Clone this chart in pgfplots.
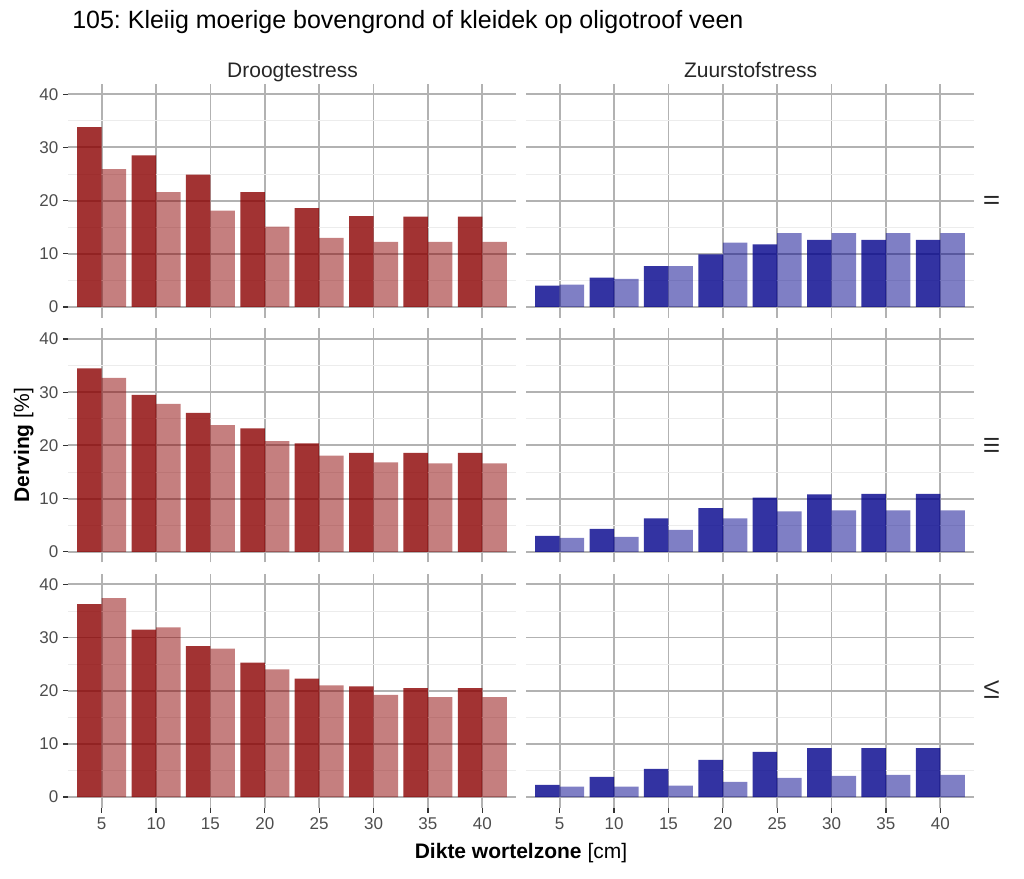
\documentclass[border=0pt]{standalone}
\usepackage{pgfplots}
\pgfplotsset{compat=1.18}
\usepackage{fontspec}
\setmainfont{Liberation Sans}
\frenchspacing
\definecolor{dred}{RGB}{139,0,0}
\definecolor{dblue}{RGB}{0,0,139}
\definecolor{gridmaj}{RGB}{178,178,178}
\definecolor{gridmin}{RGB}{236,236,236}
\definecolor{tickgrey}{RGB}{77,77,77}
\definecolor{tickmark}{RGB}{51,51,51}
\pgfplotsset{
  panel/.style={
    scale only axis, width=336pt, height=175.5pt,
    anchor=north west,
    xmin=1.9, xmax=43.1, ymin=-2, ymax=42,
    xtick={5,10,...,40}, ytick={0,10,20,30,40}, minor ytick={5,15,25,35},
    axis lines=left, axis line style={draw=none,-},
    grid=both,
    major grid style={draw=gridmaj, line width=1.4pt},
    minor grid style={draw=gridmin, line width=0.6pt},
    tick align=outside, major tick length=3.75pt, minor tick length=0pt,
    tick style={draw=tickmark, line width=0.9pt},
    /pgf/number format/assume math mode=true,
    ticklabel style={font=\fontsize{12.75pt}{14pt}\selectfont, text=tickgrey},
    ybar, bar width=2.25,
  },
  noxt/.style={xticklabels={}, xtick style={draw=none}},
  noyt/.style={yticklabels={}, ytick style={draw=none}},
  darkbar/.style={fill=#1, fill opacity=0.8, draw=none, bar shift=-1.125},
  lightbar/.style={fill=#1, fill opacity=0.5, draw=none, bar shift=1.125},
}
\begin{document}
\begin{tikzpicture}
\path[use as bounding box] (0,0) rectangle (768pt,-658.5pt);
% Row II
\begin{axis}[panel, noxt, at={(51pt,-62.7pt)}]
\addplot[darkbar=dred] coordinates {(5,33.8) (10,28.5) (15,24.9) (20,21.6) (25,18.6) (30,17.1) (35,17.0) (40,17.0)};
\addplot[lightbar=dred] coordinates {(5,25.9) (10,21.6) (15,18.1) (20,15.1) (25,13.0) (30,12.25) (35,12.25) (40,12.25)};
\end{axis}
\begin{axis}[panel, noxt, noyt, at={(394.5pt,-62.7pt)}]
\addplot[darkbar=dblue] coordinates {(5,4.0) (10,5.5) (15,7.7) (20,9.9) (25,11.75) (30,12.6) (35,12.6) (40,12.6)};
\addplot[lightbar=dblue] coordinates {(5,4.2) (10,5.3) (15,7.7) (20,12.1) (25,13.9) (30,13.9) (35,13.9) (40,13.9)};
\end{axis}
% Row III
\begin{axis}[panel, noxt, at={(51pt,-246.3pt)}]
\addplot[darkbar=dred] coordinates {(5,34.5) (10,29.5) (15,26.1) (20,23.2) (25,20.4) (30,18.6) (35,18.6) (40,18.6)};
\addplot[lightbar=dred] coordinates {(5,32.7) (10,27.8) (15,23.8) (20,20.8) (25,18.1) (30,16.8) (35,16.6) (40,16.6)};
\end{axis}
\begin{axis}[panel, noxt, noyt, at={(394.5pt,-246.3pt)}]
\addplot[darkbar=dblue] coordinates {(5,3.0) (10,4.3) (15,6.3) (20,8.2) (25,10.2) (30,10.8) (35,10.9) (40,10.9)};
\addplot[lightbar=dblue] coordinates {(5,2.6) (10,2.8) (15,4.1) (20,6.3) (25,7.6) (30,7.8) (35,7.8) (40,7.8)};
\end{axis}
% Row VI
\begin{axis}[panel, at={(51pt,-430.3pt)}]
\addplot[darkbar=dred] coordinates {(5,36.3) (10,31.5) (15,28.4) (20,25.3) (25,22.3) (30,20.8) (35,20.5) (40,20.5)};
\addplot[lightbar=dred] coordinates {(5,37.4) (10,31.9) (15,27.9) (20,24.0) (25,21.0) (30,19.2) (35,18.8) (40,18.8)};
\end{axis}
\begin{axis}[panel, noyt, at={(394.5pt,-430.3pt)}]
\addplot[darkbar=dblue] coordinates {(5,2.3) (10,3.8) (15,5.3) (20,7.0) (25,8.5) (30,9.2) (35,9.2) (40,9.2)};
\addplot[lightbar=dblue] coordinates {(5,1.95) (10,1.95) (15,2.15) (20,2.85) (25,3.6) (30,4.0) (35,4.2) (40,4.2)};
\end{axis}
% Texts
\node[anchor=base west, inner sep=0pt, font=\fontsize{18.75pt}{22pt}\selectfont] at (54pt,-21pt) {105: Kleiig moerige bovengrond of kleidek op oligotroof veen};
\node[anchor=base, inner sep=0pt, font=\fontsize{15.75pt}{18pt}\selectfont, text=black!85] at (219.4pt,-58.3pt) {Droogtestress};
\node[anchor=base, inner sep=0pt, font=\fontsize{15.75pt}{18pt}\selectfont, text=black!85] at (562.9pt,-58.3pt) {Zuurstofstress};
\node[rotate=-90, inner sep=0pt, font=\fontsize{15.75pt}{18pt}\selectfont, text=black!85] at (743.6pt,-150.6pt) {II};
\node[rotate=-90, inner sep=0pt, font=\fontsize{15.75pt}{18pt}\selectfont, text=black!85] at (743.6pt,-334pt) {III};
\node[rotate=-90, inner sep=0pt, font=\fontsize{15.75pt}{18pt}\selectfont, text=black!85] at (743.6pt,-517.9pt) {VI};
\node[rotate=90, anchor=base, inner sep=0pt, font=\fontsize{15.75pt}{18pt}\selectfont] at (21.75pt,-334pt) {\textbf{Derving} [\%]};
\node[anchor=base, inner sep=0pt, font=\fontsize{15.75pt}{18pt}\selectfont] at (390.75pt,-643.5pt) {\textbf{Dikte wortelzone} [cm]};
\end{tikzpicture}
\end{document}
